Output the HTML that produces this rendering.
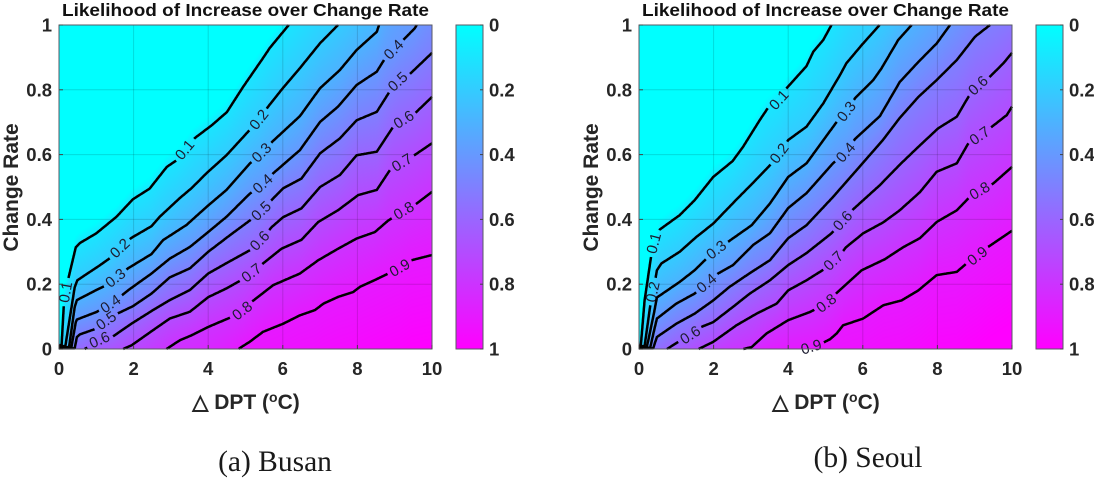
<!DOCTYPE html>
<html lang="en">
<head>
<meta charset="utf-8">
<title>Likelihood of Increase over Change Rate</title>
<style>
html,body{margin:0;padding:0;background:#fff;width:1094px;height:480px;overflow:hidden}
#stage{position:relative;width:1094px;height:480px}
canvas{position:absolute;display:block}
svg{position:absolute;left:0;top:0}
text{font-family:"Liberation Sans",Arial,sans-serif;fill:#262626}
.tick{font-weight:bold;font-size:18.5px}
.title{font-weight:bold;font-size:17.8px;fill:#111}
.axt{font-weight:bold;font-size:21px}
.cap{font-family:"Liberation Serif",serif;font-size:29.5px;fill:#1a1a1a}
.cl{font-size:15px;fill:#1c1c30}
</style>
</head>
<body>
<div id="stage">
<canvas id="busanField" width="373" height="324" style="left:59px;top:25px"></canvas>
<canvas id="seoulField" width="373" height="324" style="left:639px;top:25px"></canvas>
<svg id="plot" width="1094" height="480" viewBox="0 0 1094 480">
<defs>
<linearGradient id="cool" x1="0" y1="0" x2="0" y2="1">
<stop offset="0" stop-color="#00ffff"/><stop offset="1" stop-color="#ff00ff"/>
</linearGradient>
</defs>
<g>
<text class="title" x="245.5" y="16" text-anchor="middle" textLength="367" lengthAdjust="spacingAndGlyphs">Likelihood of Increase over Change Rate</text>
<text class="axt" transform="translate(18,187.5) rotate(-90)" text-anchor="middle">Change Rate</text>
<text class="axt" x="246" y="409" text-anchor="middle">△ DPT (<tspan font-size="14" dy="-7">o</tspan><tspan dy="7">C)</tspan></text>
<text class="cap" x="275" y="471" text-anchor="middle">(a) Busan</text>
<g id="busanMarks"></g>
</g>
<g>
<text class="title" x="825.5" y="16" text-anchor="middle" textLength="367" lengthAdjust="spacingAndGlyphs">Likelihood of Increase over Change Rate</text>
<text class="axt" transform="translate(598,187.5) rotate(-90)" text-anchor="middle">Change Rate</text>
<text class="axt" x="826" y="409" text-anchor="middle">△ DPT (<tspan font-size="14" dy="-7">o</tspan><tspan dy="7">C)</tspan></text>
<text class="cap" x="868" y="467" text-anchor="middle">(b) Seoul</text>
<g id="seoulMarks"></g>
</g>
</svg>
</div>
<script>
const levels = [0.1,0.2,0.3,0.4,0.5,0.6,0.7,0.8,0.9];
const xTicks = [0,2,4,6,8,10];
const yTicks = [0,0.2,0.4,0.6,0.8,1];
const colorbarTicks = [0,0.2,0.4,0.6,0.8,1];

const busanContours = [
 [[0,.012],[.07,.012],[.13,.138],[.26,.222],[.45,.314],[.56,.327],[1,.357],[1.54,.408],[1.98,.462],[2.43,.495],[2.89,.562],[3.16,.583],[3.64,.651],[4.1,.691],[4.5,.731],[4.93,.808],[5.47,.898],[5.65,.929],[5.98,.975],[6.16,1]],
 [[0,.009],[.17,.009],[.42,.19],[.49,.212],[1.09,.258],[1.36,.28],[1.63,.31],[1.94,.343],[2.48,.379],[2.7,.408],[3.24,.466],[3.55,.496],[3.96,.543],[4.49,.598],[5.12,.677],[5.37,.707],[5.6,.747],[6,.805],[6.46,.867],[7,.944],[7.48,1]],
 [[0,.006],[.27,.006],[.42,.129],[.48,.151],[1,.182],[1.27,.197],[1.52,.218],[1.85,.249],[2.48,.293],[2.79,.336],[3.42,.383],[3.96,.439],[4.49,.491],[5.12,.573],[5.44,.605],[5.71,.639],[6.46,.719],[7,.805],[7.53,.861],[7.98,.923],[8.52,.979],[8.58,1]],
 [[0,.004],[.33,.004],[.45,.083],[.48,.091],[1,.114],[1.39,.138],[1.85,.181],[2.48,.233],[2.97,.279],[3.51,.315],[4,.361],[4.49,.408],[5.12,.48],[5.47,.506],[5.74,.542],[6.46,.614],[7,.701],[7.48,.748],[7.98,.815],[8.52,.856],[8.74,.897],[8.98,.923],[9.18,.948],[9.54,.99],[9.59,1]],
 [[0,.002],[.42,.002],[.48,.037],[.56,.045],[1,.063],[1.27,.086],[1.58,.11],[1.98,.132],[2.48,.171],[2.97,.221],[3.51,.249],[4,.3],[4.58,.351],[5.12,.397],[5.34,.418],[5.65,.454],[6.01,.496],[6.5,.526],[7,.604],[7.53,.65],[7.98,.706],[8.52,.732],[8.86,.794],[9.09,.824],[9.41,.849],[10,.914]],
 [[.69,0],[1.09,.027],[1.45,.039],[1.94,.078],[2.52,.12],[2.97,.151],[3.51,.182],[4,.233],[4.49,.265],[5.12,.305],[5.39,.333],[5.7,.376],[6.01,.407],[6.5,.434],[7,.5],[7.53,.537],[7.98,.598],[8.52,.609],[8.96,.686],[9.25,.707],[9.54,.727],[10,.778]],
 [[1.72,0],[1.94,.011],[2.52,.058],[2.97,.094],[3.51,.115],[4,.16],[4.49,.187],[4.89,.213],[5.17,.234],[5.47,.264],[5.97,.31],[6.5,.337],[6.95,.392],[7.49,.429],[8.02,.475],[8.52,.491],[8.87,.552],[9.2,.574],[9.54,.599],[10,.635]],
 [[2.88,0],[3.24,.027],[3.55,.042],[4,.068],[4.63,.099],[4.92,.117],[5.16,.145],[5.74,.197],[6.46,.233],[6.95,.274],[7.49,.31],[7.98,.341],[8.47,.361],[8.83,.397],[9.25,.426],[9.59,.449],[10,.485]],
 [[4.82,0],[4.89,.006],[5.11,.022],[5.47,.053],[6.01,.078],[6.46,.104],[6.86,.12],[7.09,.14],[7.49,.161],[7.89,.176],[8.07,.192],[8.47,.213],[8.83,.233],[9.14,.248],[9.45,.274],[10,.29]]
];
const busanLabels = [
 [0.1,.19,.175],[0.1,3.38,.614],
 [0.2,1.64,.31],[0.2,5.37,.707],
 [0.3,1.52,.218],[0.3,5.44,.605],
 [0.4,1.39,.138],[0.4,5.47,.509],[0.4,8.98,.923],
 [0.5,1.27,.086],[0.5,5.43,.425],[0.5,9.09,.824],
 [0.6,1.09,.027],[0.6,5.39,.333],[0.6,9.25,.707],
 [0.7,5.17,.234],[0.7,9.2,.574],
 [0.8,4.92,.117],[0.8,9.25,.426],
 [0.9,9.14,.249]
];

const seoulContours = [
 [[0,.012],[.05,.012],[.15,.15],[.33,.29],[.47,.33],[.56,.369],[1.09,.413],[1.49,.459],[1.99,.531],[2.51,.58],[2.79,.624],[3.24,.707],[3.45,.743],[3.76,.768],[3.95,.804],[4.49,.873],[4.67,.917],[4.94,.954],[5.16,1]],
 [[0,.009],[.15,.009],[.31,.141],[.38,.176],[.48,.243],[.6,.264],[1.09,.3],[1.54,.346],[1.99,.387],[2.61,.461],[3.05,.512],[3.51,.567],[3.77,.603],[4,.645],[4.49,.686],[4.94,.758],[5.39,.846],[5.56,.882],[5.97,.938],[6.45,1]],
 [[0,.006],[.21,.006],[.39,.104],[.48,.159],[1.09,.207],[1.49,.243],[1.81,.279],[2.08,.302],[2.39,.331],[3.02,.382],[3.51,.449],[4,.531],[4.49,.573],[5.3,.701],[5.57,.732],[5.79,.774],[6.28,.83],[6.5,.866],[6.95,.954],[7.31,1]],
 [[0,.004],[.3,.004],[.41,.06],[.48,.094],[1,.14],[1.49,.171],[1.82,.202],[2.12,.233],[2.52,.259],[3.06,.321],[3.51,.357],[4,.435],[4.49,.481],[5.2,.573],[5.55,.608],[5.79,.648],[6.46,.719],[6.99,.824],[7.49,.886],[7.98,.943],[8.34,1]],
 [[0,.002],[.38,.002],[.48,.037],[1,.078],[1.49,.109],[1.99,.15],[2.43,.192],[2.97,.234],[3.51,.274],[4,.342],[4.49,.382],[5.2,.469],[6,.574],[6.54,.645],[6.99,.713],[7.49,.778],[7.98,.83],[8.52,.892],[9.01,.964],[9.41,1]],
 [[.75,0],[1.05,.022],[1.38,.042],[1.67,.068],[1.99,.083],[2.52,.13],[2.97,.171],[3.51,.212],[4,.259],[4.49,.296],[5.16,.357],[5.47,.395],[5.74,.431],[6.46,.506],[7.01,.571],[7.49,.624],[8.02,.681],[8.52,.717],[8.83,.778],[9.1,.812],[9.36,.835],[9.77,.882],[10,.914]],
 [[1.6,0],[1.99,.022],[2.61,.073],[3.15,.109],[3.69,.14],[4,.181],[4.49,.212],[5.03,.251],[5.3,.277],[5.55,.314],[6.01,.357],[6.55,.391],[6.99,.428],[7.53,.484],[7.98,.547],[8.52,.573],[8.83,.635],[9.14,.657],[9.46,.686],[9.86,.722],[10,.748]],
 [[2.8,0],[3.02,.006],[3.42,.048],[4,.089],[4.58,.114],[5.03,.14],[5.3,.173],[5.97,.243],[6.59,.277],[7.08,.314],[7.53,.342],[7.98,.392],[8.52,.428],[8.83,.465],[9.14,.487],[9.5,.511],[10,.562]],
 [[4.45,0],[4.72,.004],[4.98,.022],[5.12,.03],[5.3,.048],[5.47,.073],[6.01,.094],[6.55,.135],[7.04,.15],[7.49,.181],[7.98,.228],[8.52,.238],[8.78,.264],[9.08,.286],[9.36,.315],[10,.365]]
];
const seoulLabels = [
 [0.1,.41,.326],[0.1,3.76,.768],
 [0.2,.38,.176],[0.2,3.77,.603],
 [0.3,2.08,.305],[0.3,5.57,.732],
 [0.4,1.82,.202],[0.4,5.55,.606],
 [0.6,1.38,.042],[0.6,5.47,.395],[0.6,9.1,.812],
 [0.7,5.22,.271],[0.7,9.14,.657],
 [0.8,5.03,.14],[0.8,9.14,.487],
 [0.9,4.62,.005],[0.9,9.08,.286]
];

const SVGNS = 'http://www.w3.org/2000/svg';
const plotW = 373, plotH = 324, plotTop = 25, barGap = 24, barW = 27;

function make(tag, parent){
  const el = document.createElementNS(SVGNS, tag);
  parent.appendChild(el);
  return el;
}
function crossing(line, x){
  let i = 0;
  while(i < line.length-2 && line[i+1][0] < x) i++;
  const a = line[i], b = line[i+1];
  return a[1] + (b[1]-a[1])*(x-a[0])/((b[0]-a[0])||1e-6);
}
function valueAt(ys, y){
  if(y >= ys[0]) return Math.max(0, levels[0]-(y-ys[0])*3);
  const n = ys.length-1;
  if(y <= ys[n]) return Math.min(1, levels[n]+(ys[n]-y)*0.35);
  for(let k=0;k<n;k++){
    if(y <= ys[k] && y >= ys[k+1]){
      const d = ys[k]-ys[k+1];
      return d>1e-6 ? levels[k]+(levels[k+1]-levels[k])*(ys[k]-y)/d : levels[k];
    }
  }
  return 0.5;
}
function paintField(canvas, contours){
  const ctx = canvas.getContext('2d');
  const img = ctx.createImageData(plotW, plotH);
  for(let px=0;px<plotW;px++){
    const x = (px+0.5)/plotW*10;
    const ys = contours.map(function(l){return crossing(l,x);});
    for(let py=0;py<plotH;py++){
      const v = valueAt(ys, 1-(py+0.5)/plotH);
      const o = (py*plotW+px)*4;
      img.data[o] = 255*v;
      img.data[o+1] = 255*(1-v);
      img.data[o+2] = 255;
      img.data[o+3] = 255;
    }
  }
  ctx.putImageData(img,0,0);
}
function drawChart(root, left, contours, labels){
  const sx = function(v){return left + v/10*plotW;};
  const sy = function(v){return plotTop + (1-v)*plotH;};

  xTicks.slice(1,-1).forEach(function(t){
    const g = make('line', root);
    
    
    g.setAttribute('x1', sx(t)); g.setAttribute('x2', sx(t));
    g.setAttribute('y1', sy(0)); g.setAttribute('y2', sy(1));
    g.setAttribute('stroke', '#000'); g.setAttribute('stroke-opacity', '.14');
  });
  yTicks.slice(1,-1).forEach(function(t){
    const g = make('line', root);
    
    
    g.setAttribute('x1', sx(0)); g.setAttribute('x2', sx(10));
    g.setAttribute('y1', sy(t)); g.setAttribute('y2', sy(t));
    g.setAttribute('stroke', '#000'); g.setAttribute('stroke-opacity', '.14');
  });

  contours.forEach(function(line, idx){
    const lev = levels[idx];
    const own = labels.filter(function(l){return Math.abs(l[0]-lev)<1e-6;});
    const centers = own.map(function(l){return [sx(l[1]), sy(l[2])];});
    let runs = [], cur = [];
    for(let i=0;i<line.length-1;i++){
      const ax=sx(line[i][0]), ay=sy(line[i][1]), bx=sx(line[i+1][0]), by=sy(line[i+1][1]);
      const steps = Math.max(1, Math.ceil(Math.hypot(bx-ax,by-ay)));
      for(let s=0;s<=steps;s++){
        const px=ax+(bx-ax)*s/steps, py=ay+(by-ay)*s/steps;
        const hidden = centers.some(function(c){return Math.hypot(px-c[0],py-c[1])<13.5;});
        if(hidden){ if(cur.length>1) runs.push(cur); cur=[]; }
        else cur.push(px.toFixed(1)+','+py.toFixed(1));
      }
    }
    if(cur.length>1) runs.push(cur);
    runs.forEach(function(r){
      const p = make('polyline', root);
      
      
      p.setAttribute('points', r.join(' '));
      p.setAttribute('fill', 'none');
      p.setAttribute('stroke', '#000');
      p.setAttribute('stroke-width', '2.5');
      p.setAttribute('stroke-linejoin', 'round');
    });
    own.forEach(function(l){
      const d = 0.25;
      const x0 = Math.max(line[0][0], l[1]-d), x1 = Math.min(line[line.length-1][0], l[1]+d);
      let ang = Math.atan2(sy(crossing(line,x1))-sy(crossing(line,x0)), sx(x1)-sx(x0))*180/Math.PI;
      const t = make('text', root);
      
      
      t.setAttribute('class', 'cl');
      t.setAttribute('text-anchor', 'middle');
      t.setAttribute('dominant-baseline', 'central');
      t.setAttribute('transform', 'translate('+sx(l[1]).toFixed(1)+','+sy(l[2]).toFixed(1)+') rotate('+ang.toFixed(1)+')');
      t.textContent = String(lev);
    });
  });

  const box = make('rect', root);
  
  
  box.setAttribute('x', left); box.setAttribute('y', plotTop);
  box.setAttribute('width', plotW); box.setAttribute('height', plotH);
  box.setAttribute('fill', 'none'); box.setAttribute('stroke', '#5a5a66');

  xTicks.forEach(function(t){
    const m = make('line', root);
    
    
    m.setAttribute('x1', sx(t)); m.setAttribute('x2', sx(t));
    m.setAttribute('y1', sy(0)); m.setAttribute('y2', sy(0)-4);
    m.setAttribute('stroke', '#444');
    const s = make('text', root);
    
    
    s.setAttribute('class', 'tick');
    s.setAttribute('x', sx(t)); s.setAttribute('y', 375);
    s.setAttribute('text-anchor', 'middle');
    s.textContent = String(t);
  });
  yTicks.forEach(function(t){
    const m = make('line', root);
    
    
    m.setAttribute('x1', sx(0)); m.setAttribute('x2', sx(0)+4);
    m.setAttribute('y1', sy(t)); m.setAttribute('y2', sy(t));
    m.setAttribute('stroke', '#444');
    const s = make('text', root);
    
    
    s.setAttribute('class', 'tick');
    s.setAttribute('x', left-7); s.setAttribute('y', sy(t)+6.5);
    s.setAttribute('text-anchor', 'end');
    s.textContent = String(t);
  });

  const barX = left + plotW + barGap;
  const bar = make('rect', root);
  
  
  bar.setAttribute('x', barX); bar.setAttribute('y', plotTop);
  bar.setAttribute('width', barW); bar.setAttribute('height', plotH);
  bar.setAttribute('fill', 'url(#cool)'); bar.setAttribute('stroke', '#5a5a66');
  colorbarTicks.forEach(function(t){
    const py = plotTop + t*plotH;
    const m = make('line', root);
    
    
    m.setAttribute('x1', barX+barW-3); m.setAttribute('x2', barX+barW);
    m.setAttribute('y1', py); m.setAttribute('y2', py);
    m.setAttribute('stroke', '#444');
    const s = make('text', root);
    
    
    s.setAttribute('class', 'tick');
    s.setAttribute('x', barX+barW+6); s.setAttribute('y', py+6.5);
    s.textContent = String(t);
  });
}
paintField(document.getElementById('busanField'), busanContours);
paintField(document.getElementById('seoulField'), seoulContours);
drawChart(document.getElementById('busanMarks'), 59, busanContours, busanLabels);
drawChart(document.getElementById('seoulMarks'), 639, seoulContours, seoulLabels);
</script>
</body>
</html>
